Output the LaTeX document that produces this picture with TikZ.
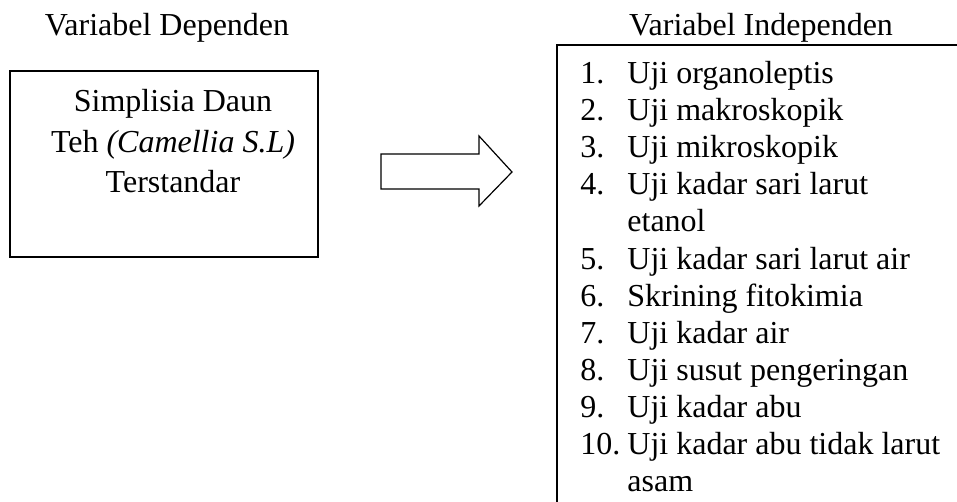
\documentclass[tikz,border=0pt]{standalone}
\usepackage{fontspec}
\setmainfont{Liberation Serif}
\usetikzlibrary{positioning}

\tikzset{
  txt/.style = {inner sep = 0pt, font = \fontsize{16pt}{18.5pt}\selectfont},
  kotak/.style = {draw = black, line width = 0.6pt}
}

\begin{document}
\begin{tikzpicture}[x = 0.5pt, y = -0.5pt]
	\clip (0, 0) rectangle (957, 502);
	\node [txt, anchor = base] (judulDep) at (167, 36) {Variabel Dependen};
	\node [txt, anchor = base] (judulInd) at (761, 36) {Variabel Independen};
	\draw [kotak] (10, 71) rectangle (318, 257);
	\node [txt, anchor = base, align = center, font = \fontsize{16pt}{20pt}\selectfont] (simplisia) at (173, 192)
		{Simplisia Daun\\ Teh \textit{(Camellia S.L)}\\ Terstandar};
	\draw [kotak, line join = miter] (381, 154) -- (479, 154) -- (479, 136) -- (512, 172)
		-- (479, 206) -- (479, 189) -- (381, 189) -- cycle;
	\draw [kotak] (557, 45) rectangle (1000, 560);
	\foreach \k/\nomor/\uji in {0/1./Uji organoleptis, 1/2./Uji makroskopik, 2/3./Uji mikroskopik,
			3/4./Uji kadar sari larut, 4//etanol, 5/5./Uji kadar sari larut air,
			6/6./Skrining fitokimia, 7/7./Uji kadar air, 8/8./Uji susut pengeringan,
			9/9./Uji kadar abu, 10/10./Uji kadar abu tidak larut, 11//asam}{
		\node [txt, anchor = base west] (no\k) at (580, {84 + 37 * \k}) {\nomor};
		\node [txt, anchor = base west] (uji\k) at (627, {84 + 37 * \k}) {\uji};
	}
\end{tikzpicture}
\end{document}
